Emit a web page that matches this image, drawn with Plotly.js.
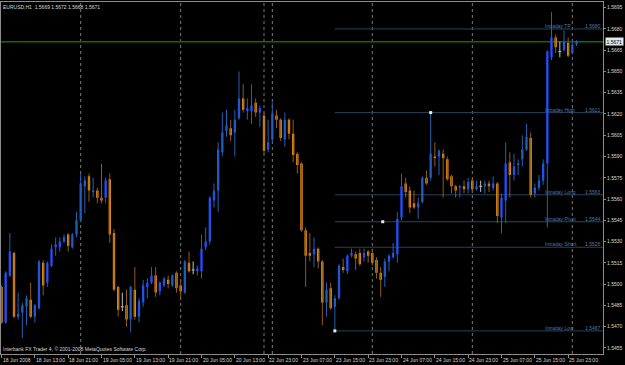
<!DOCTYPE html>
<html><head><meta charset="utf-8">
<script src="https://cdn.plot.ly/plotly-3.0.1.min.js"></script>
<style>html,body{margin:0;padding:0;background:#000;} #chart{width:625px;height:365px;}</style>
</head><body><div id="chart"></div>
<script>
// ---------------- data ----------------
const symbolTitle = "EURUSD,H1  1.5669 1.5672 1.5668 1.5671";
const open = [1.5498,1.5473,1.5506,1.5522,1.5477,1.5480,1.5484,1.5489,1.5477,1.5483,
1.5515,1.5501,1.5513,1.5526,1.5526,1.5530,1.5535,1.5526,1.5535,1.5545,
1.5569,1.5576,1.5565,1.5566,1.5561,1.5561,1.5574,1.5536,1.5498,1.5484,
1.5485,1.5475,1.5496,1.5477,1.5487,1.5498,1.5501,1.5506,1.5495,1.5499,
1.5503,1.5499,1.5508,1.5499,1.5494,1.5515,1.5510,1.5509,1.5509,1.5526,
1.5530,1.5559,1.5566,1.5593,1.5608,1.5610,1.5607,1.5617,1.5631,1.5622,
1.5622,1.5628,1.5621,1.5619,1.5595,1.5602,1.5619,1.5616,1.5602,1.5616,
1.5606,1.5592,1.5585,1.5538,1.5522,1.5521,1.5525,1.5516,1.5487,1.5497,
1.5484,1.5490,1.5512,1.5509,1.5520,1.5521,1.5522,1.5519,1.5523,1.5522,
1.5517,1.5508,1.5505,1.5516,1.5519,1.5521,1.5547,1.5571,1.5566,1.5557,
1.5554,1.5558,1.5575,1.5575,1.5590,1.5590,1.5592,1.5588,1.5576,1.5569,
1.5568,1.5569,1.5567,1.5573,1.5567,1.5569,1.5569,1.5571,1.5568,1.5571,
1.5547,1.5559,1.5586,1.5577,1.5584,1.5588,1.5595,1.5603,1.5564,1.5568,
1.5573,1.5585,1.5660,1.5674,1.5664,1.5665,1.5670,1.5663,1.5669];
const high = [1.5499,1.5509,1.5536,1.5523,1.5494,1.5487,1.5492,1.5501,1.5486,1.5517,
1.5517,1.5516,1.5528,1.5533,1.5533,1.5535,1.5536,1.5536,1.5551,1.5578,
1.5576,1.5578,1.5575,1.5568,1.5585,1.5575,1.5578,1.5539,1.5499,1.5494,
1.5496,1.5499,1.5512,1.5490,1.5503,1.5504,1.5512,1.5512,1.5502,1.5505,
1.5506,1.5507,1.5509,1.5503,1.5517,1.5523,1.5516,1.5513,1.5535,1.5540,
1.5562,1.5571,1.5600,1.5621,1.5623,1.5616,1.5623,1.5650,1.5641,1.5631,
1.5641,1.5631,1.5626,1.5621,1.5616,1.5628,1.5623,1.5617,1.5621,1.5617,
1.5616,1.5593,1.5586,1.5540,1.5536,1.5533,1.5526,1.5517,1.5501,1.5501,
1.5492,1.5514,1.5518,1.5521,1.5525,1.5523,1.5525,1.5525,1.5524,1.5525,
1.5519,1.5512,1.5518,1.5521,1.5529,1.5551,1.5578,1.5575,1.5569,1.5566,
1.5561,1.5576,1.5580,1.5621,1.5600,1.5595,1.5595,1.5590,1.5577,1.5570,
1.5570,1.5573,1.5575,1.5575,1.5573,1.5573,1.5573,1.5573,1.5576,1.5572,
1.5564,1.5600,1.5593,1.5592,1.5588,1.5605,1.5613,1.5607,1.5571,1.5577,
1.5588,1.5665,1.5692,1.5676,1.5671,1.5679,1.5674,1.5672,1.5672];
const low = [1.5472,1.5472,1.5505,1.5476,1.5475,1.5462,1.5471,1.5476,1.5473,1.5482,
1.5492,1.5498,1.5512,1.5520,1.5523,1.5529,1.5523,1.5525,1.5533,1.5544,
1.5550,1.5558,1.5561,1.5557,1.5557,1.5557,1.5529,1.5495,1.5477,1.5481,
1.5470,1.5466,1.5475,1.5473,1.5484,1.5490,1.5500,1.5491,1.5492,1.5498,
1.5497,1.5498,1.5494,1.5489,1.5493,1.5508,1.5507,1.5506,1.5504,1.5524,
1.5528,1.5554,1.5551,1.5590,1.5604,1.5601,1.5590,1.5616,1.5621,1.5616,
1.5613,1.5618,1.5611,1.5592,1.5593,1.5600,1.5610,1.5601,1.5597,1.5602,
1.5586,1.5578,1.5537,1.5498,1.5516,1.5512,1.5511,1.5471,1.5477,1.5482,
1.5467,1.5489,1.5508,1.5507,1.5519,1.5510,1.5513,1.5516,1.5515,1.5513,
1.5504,1.5491,1.5498,1.5509,1.5518,1.5515,1.5545,1.5561,1.5550,1.5553,
1.5546,1.5557,1.5570,1.5573,1.5583,1.5577,1.5561,1.5573,1.5564,1.5561,
1.5561,1.5564,1.5564,1.5564,1.5566,1.5565,1.5564,1.5565,1.5566,1.5543,
1.5536,1.5543,1.5561,1.5573,1.5577,1.5583,1.5594,1.5561,1.5561,1.5566,
1.5570,1.5540,1.5658,1.5663,1.5660,1.5664,1.5660,1.5662,1.5668];
const close = [1.5473,1.5508,1.5523,1.5477,1.5479,1.5485,1.5490,1.5477,1.5485,1.5516,
1.5499,1.5515,1.5525,1.5528,1.5530,1.5533,1.5527,1.5535,1.5545,1.5571,
1.5573,1.5566,1.5566,1.5561,1.5559,1.5573,1.5535,1.5496,1.5482,1.5484,
1.5475,1.5498,1.5477,1.5488,1.5499,1.5501,1.5506,1.5494,1.5501,1.5504,
1.5500,1.5506,1.5497,1.5495,1.5516,1.5509,1.5510,1.5511,1.5525,1.5530,
1.5561,1.5566,1.5595,1.5607,1.5612,1.5605,1.5616,1.5631,1.5623,1.5624,
1.5626,1.5621,1.5624,1.5594,1.5600,1.5620,1.5616,1.5603,1.5616,1.5606,
1.5591,1.5584,1.5538,1.5520,1.5520,1.5525,1.5516,1.5487,1.5496,1.5483,
1.5490,1.5513,1.5510,1.5520,1.5522,1.5518,1.5514,1.5522,1.5520,1.5515,
1.5508,1.5503,1.5516,1.5520,1.5522,1.5546,1.5569,1.5565,1.5554,1.5554,
1.5557,1.5575,1.5571,1.5592,1.5589,1.5594,1.5589,1.5574,1.5569,1.5566,
1.5569,1.5567,1.5572,1.5567,1.5569,1.5569,1.5571,1.5569,1.5571,1.5548,
1.5561,1.5585,1.5577,1.5583,1.5585,1.5595,1.5604,1.5563,1.5568,1.5573,
1.5585,1.5664,1.5674,1.5667,1.5664,1.5671,1.5661,1.5669,1.5671];
const timeTickLabels = ["18 Jun 2008","18 Jun 13:00","18 Jun 21:00","19 Jun 05:00","19 Jun 13:00",
"19 Jun 21:00","20 Jun 05:00","20 Jun 13:00","22 Jun 23:00","23 Jun 07:00","23 Jun 15:00",
"23 Jun 23:00","24 Jun 07:00","24 Jun 15:00","24 Jun 23:00","25 Jun 07:00","25 Jun 15:00","25 Jun 23:00"];
const barsPerTimeTick = 8;
const daySeparatorBars = [19, 43, 63, 65, 89, 113, 137];
const levelNames = ["Intraday TP","Intraday High","Intraday Long","Intraday Pivot","Intraday Short","Intraday Low"];
const levelValues = [1.5680, 1.5621, 1.5563, 1.5544, 1.5526, 1.5467];
const levelStartBar = 80;
const markerBars = [103, 91.5, 80];
const markerPrices = [1.5621, 1.5544, 1.5467];
const bidPrice = 1.5671;
const priceTicks = [1.5455,1.5470,1.5485,1.5500,1.5515,1.5530,1.5545,1.5560,1.5575,1.5590,1.5605,1.5620,1.5635,1.5650,1.5665,1.5680,1.5695];
const copyrightText = "Interbank FX Trader 4, \u00a9 2001-2008 MetaQuotes Software Corp.";

// ---------------- styles ----------------
const FONT = "Liberation Sans, Arial, sans-serif";
const FS = 5;
const bullBody = "#1f4cff", bearBody = "#ff9a12";
const bullWick = "#2560b0", bearWick = "#8f5c12", dojiCol = "#c0c0c0";
const xRange = [-0.12, 144.36];
const yRange = [1.54507, 1.56990];

const idx = open.map((_, i) => i);
function pick(filter) {
  const s = {x: [], o: [], h: [], l: [], c: []};
  idx.forEach(i => { if (filter(i)) { s.x.push(i); s.o.push(open[i]); s.h.push(high[i]); s.l.push(low[i]); s.c.push(close[i]); } });
  return s;
}
const bull = pick(i => close[i] > open[i]);
const bear = pick(i => close[i] < open[i]);
const doji = pick(i => close[i] === open[i]);

function wicks(s, col, tw) {
  return {type: 'ohlc', x: s.x, open: s.o, high: s.h, low: s.l, close: s.c, tickwidth: tw,
    increasing: {line: {color: col, width: 1}}, decreasing: {line: {color: col, width: 1}},
    hoverinfo: 'skip', showlegend: false};
}
function bodies(s, col) {
  return {type: 'candlestick', x: s.x, open: s.o, high: s.h, low: s.l, close: s.c, whiskerwidth: 0,
    increasing: {fillcolor: col, line: {color: col, width: 0}},
    decreasing: {fillcolor: col, line: {color: col, width: 0}},
    hoverinfo: 'skip', showlegend: false};
}

const traces = [
  wicks(bull, bullWick, 0), wicks(bear, bearWick, 0),
  bodies(bull, bullBody), bodies(bear, bearBody),
  wicks(doji, dojiCol, 0.35),
  {type: 'scatter', mode: 'markers', x: markerBars, y: markerPrices,
   marker: {symbol: 'square', size: 3, color: '#e8e8e8'}, hoverinfo: 'skip', showlegend: false}
];

const shapes = [];
daySeparatorBars.forEach(b => shapes.push({type: 'line', xref: 'x', yref: 'paper', x0: b, x1: b, y0: 0, y1: 1,
  line: {color: '#7a7a7a', width: 1, dash: 'dot'}, layer: 'below'}));
levelValues.forEach(v => shapes.push({type: 'line', xref: 'x', yref: 'y', x0: levelStartBar, x1: xRange[1], y0: v, y1: v,
  line: {color: '#25445f', width: 1}, layer: 'below'}));
shapes.push({type: 'line', xref: 'paper', yref: 'y', x0: 0, x1: 1, y0: bidPrice, y1: bidPrice,
  line: {color: '#0f6a0f', width: 1.5}, layer: 'below'});

const annotations = [];
timeTickLabels.forEach((t, k) => annotations.push({xref: 'x', yref: 'paper', x: k * barsPerTimeTick, y: 0,
  xanchor: 'left', yanchor: 'top', yshift: -1.5, text: t, showarrow: false, borderpad: 0,
  font: {family: FONT, size: FS, color: '#d8d8d8'}}));
levelNames.forEach((n, k) => {
  annotations.push({xref: 'paper', yref: 'y', x: 543 / 602, y: levelValues[k], xanchor: 'left', yanchor: 'bottom',
    text: n, showarrow: false, borderpad: 0, yshift: -1, font: {family: FONT, size: FS, color: '#4a78a8'}});
  annotations.push({xref: 'paper', yref: 'y', x: 1, y: levelValues[k], xanchor: 'right', yanchor: 'bottom', xshift: -1,
    text: levelValues[k].toFixed(4), showarrow: false, borderpad: 0, yshift: -1, font: {family: FONT, size: FS, color: '#4a78a8'}});
});
annotations.push({xref: 'paper', yref: 'y', x: 1, y: bidPrice, xanchor: 'left', xshift: 2, text: bidPrice.toFixed(4),
  showarrow: false, bgcolor: '#e6e6e6', borderpad: 0.5, font: {family: FONT, size: FS, color: '#000'}});
annotations.push({xref: 'paper', yref: 'paper', x: 0, y: 1, xanchor: 'left', yanchor: 'top', xshift: 1, yshift: -1,
  text: symbolTitle, showarrow: false, borderpad: 0, font: {family: FONT, size: FS, color: '#d8d8d8'}});
annotations.push({xref: 'paper', yref: 'paper', x: 0, y: 0, xanchor: 'left', yanchor: 'bottom', xshift: 1, yshift: 1,
  text: copyrightText, showarrow: false, borderpad: 0, font: {family: FONT, size: FS, color: '#d8d8d8'}});

const layout = {
  width: 625, height: 365,
  margin: {l: 1, r: 22, t: 2, b: 11, pad: 0},
  paper_bgcolor: '#000', plot_bgcolor: '#000',
  showlegend: false, boxgap: 0.2,
  font: {family: FONT, size: FS, color: '#d8d8d8'},
  xaxis: {type: 'linear', range: xRange, rangeslider: {visible: false}, showgrid: false, zeroline: false,
    showline: true, mirror: true, linecolor: '#8c8c8c', linewidth: 1,
    tickvals: timeTickLabels.map((_, k) => k * barsPerTimeTick), showticklabels: false,
    ticks: 'outside', ticklen: 3, tickcolor: '#8c8c8c', fixedrange: true},
  yaxis: {range: yRange, side: 'right', showgrid: false, zeroline: false,
    showline: true, mirror: true, linecolor: '#8c8c8c', linewidth: 1,
    tickvals: priceTicks, ticktext: priceTicks.map(v => v.toFixed(4)),
    ticks: 'outside', ticklen: 2, tickcolor: '#8c8c8c',
    tickfont: {family: FONT, size: FS, color: '#d8d8d8'}, fixedrange: true},
  shapes: shapes, annotations: annotations
};
Plotly.newPlot('chart', traces, layout, {displayModeBar: false, staticPlot: true});
</script>
</body></html>
